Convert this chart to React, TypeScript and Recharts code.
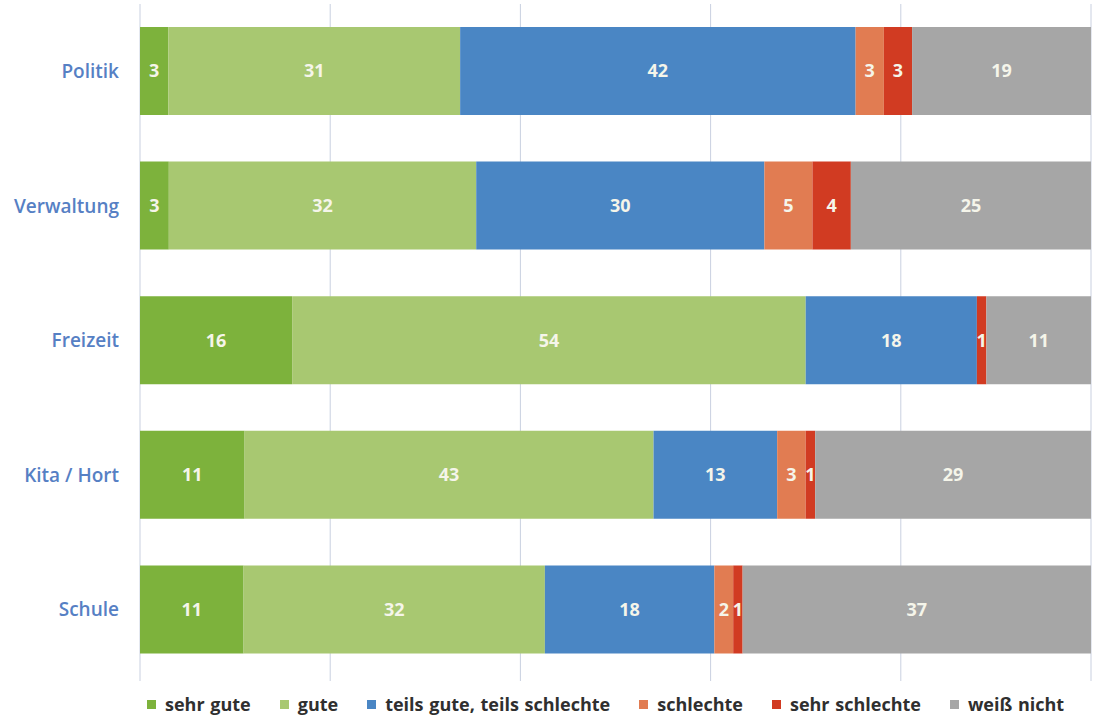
import { Bar, BarChart, CartesianGrid, LabelList, Legend, XAxis, YAxis } from "recharts";

const categories = ["Politik", "Verwaltung", "Freizeit", "Kita / Hort", "Schule"];
const sehrGute = [3, 3, 16, 11, 11];
const gute = [31, 32, 54, 43, 32];
const teils = [42, 30, 18, 13, 18];
const schlechte = [3, 5, 0, 3, 2];
const sehrSchlechte = [3, 4, 1, 1, 1];
const weissNicht = [19, 25, 11, 29, 37];
const xTicks = [0, 0.2, 0.4, 0.6, 0.8, 1];

const series = [
  { key: "sehrGute", name: "sehr gute", color: "#7db23c" },
  { key: "gute", name: "gute", color: "#a8c871" },
  { key: "teils", name: "teils gute, teils schlechte", color: "#4a86c4" },
  { key: "schlechte", name: "schlechte", color: "#e17c52" },
  { key: "sehrSchlechte", name: "sehr schlechte", color: "#d13b22" },
  { key: "weissNicht", name: "weiß nicht", color: "#a6a6a6" },
];

const data = categories.map((name, i) => ({
  name,
  sehrGute: sehrGute[i],
  gute: gute[i],
  teils: teils[i],
  schlechte: schlechte[i],
  sehrSchlechte: sehrSchlechte[i],
  weissNicht: weissNicht[i],
}));

const FONT = "'Open Sans', 'DejaVu Sans', sans-serif";

function LegendContent() {
  return (
    <div
      style={{
        display: "flex",
        justifyContent: "flex-start",
        gap: 29,
        paddingLeft: 147,
        paddingTop: 7,
        fontFamily: FONT,
        fontWeight: 700,
        fontSize: 18,
        wordSpacing: 1,
        color: "#2f2f2f",
        whiteSpace: "nowrap",
      }}
    >
      {series.map((s) => (
        <span key={s.key} style={{ display: "flex", alignItems: "center" }}>
          <span style={{ width: 9, height: 9, background: s.color, marginRight: 9, display: "inline-block" }} />
          {s.name}
        </span>
      ))}
    </div>
  );
}

export default function App() {
  return (
    <div style={{ position: "absolute", left: 0, top: 0, background: "#fff" }}>
      <BarChart
        width={1093}
        height={718}
        data={data}
        layout="vertical"
        stackOffset="expand"
        margin={{ top: 4, right: 2, left: 0, bottom: 0 }}
        barSize={88}
      >
        <CartesianGrid horizontal={false} stroke="#c9d0e0" />
        <XAxis
          type="number"
          domain={[0, 1]}
          ticks={xTicks}
          tick={() => <g />}
          axisLine={false}
          tickLine={{ stroke: "#c9d0e0" }}
          tickSize={4}
          height={8}
        />
        <YAxis
          type="category"
          dataKey="name"
          width={140}
          axisLine={false}
          tickLine={false}
          tickSize={0}
          tickMargin={21}
          tick={{ fill: "#5680c4", fontSize: 19, fontWeight: 600, fontFamily: FONT }}
        />
        <Legend verticalAlign="bottom" height={33} content={<LegendContent />} />
        {series.map((s) => (
          <Bar key={s.key} dataKey={s.key} name={s.name} stackId="a" fill={s.color} isAnimationActive={false}>
            <LabelList
              dataKey={s.key}
              position="center"
              formatter={(v: any) => (v ? String(v) : "")}
              style={{ fill: "#f5f5ea", fontSize: 18, fontWeight: 700, fontFamily: FONT }}
            />
          </Bar>
        ))}
      </BarChart>
    </div>
  );
}
